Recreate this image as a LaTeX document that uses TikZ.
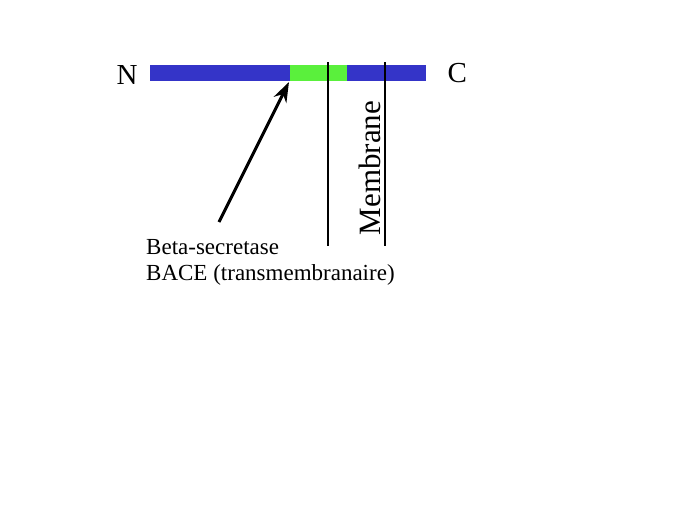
\documentclass[tikz,border=0pt]{standalone}
\usepackage{fontspec}
\setmainfont{Liberation Serif}
\usetikzlibrary{arrows.meta, positioning}

\definecolor{barblue}{RGB}{52,52,200}
\definecolor{bargreen}{RGB}{90,240,60}

\begin{document}
\begin{tikzpicture}[x=1pt, y=-1pt, >={Stealth[length=20pt, width=14pt]}]
    \useasboundingbox (0,0) rectangle (689,517);

    % chaine proteique
    \fill[barblue]  (150, 65) rectangle (290, 81);
    \fill[bargreen] (290, 65) rectangle (347, 81);
    \fill[barblue]  (347, 65) rectangle (426, 81);
    \coordinate (site) at (289, 82);

    \node[font=\fontsize{29}{30}\selectfont, anchor=base east] (nterm) at (141, 84) {N};
    \node[font=\fontsize{29}{30}\selectfont, anchor=base west] (cterm) at (444, 82) {C};

    % membrane
    \draw[line width=2pt] (328, 62) -- (328, 246);
    \draw[line width=2pt] (385, 62) -- (385, 246);
    \node[rotate=90, font=\fontsize{31}{32}\selectfont, anchor=base] (memb) at (380, 168) {Membrane};

    % enzyme
    \node[align=left, anchor=base west, inner sep=0pt, font=\fontsize{23}{26}\selectfont] (bace) at (146, 254) {Beta-secretase};
    \node[align=left, anchor=base west, inner sep=0pt, font=\fontsize{23}{26}\selectfont] (bacetm) at (146, 280) {BACE (transmembranaire)};
    \coordinate (tail) at (219, 222);
    \draw[->, line width=3pt] (tail) -- (site);
\end{tikzpicture}
\end{document}
